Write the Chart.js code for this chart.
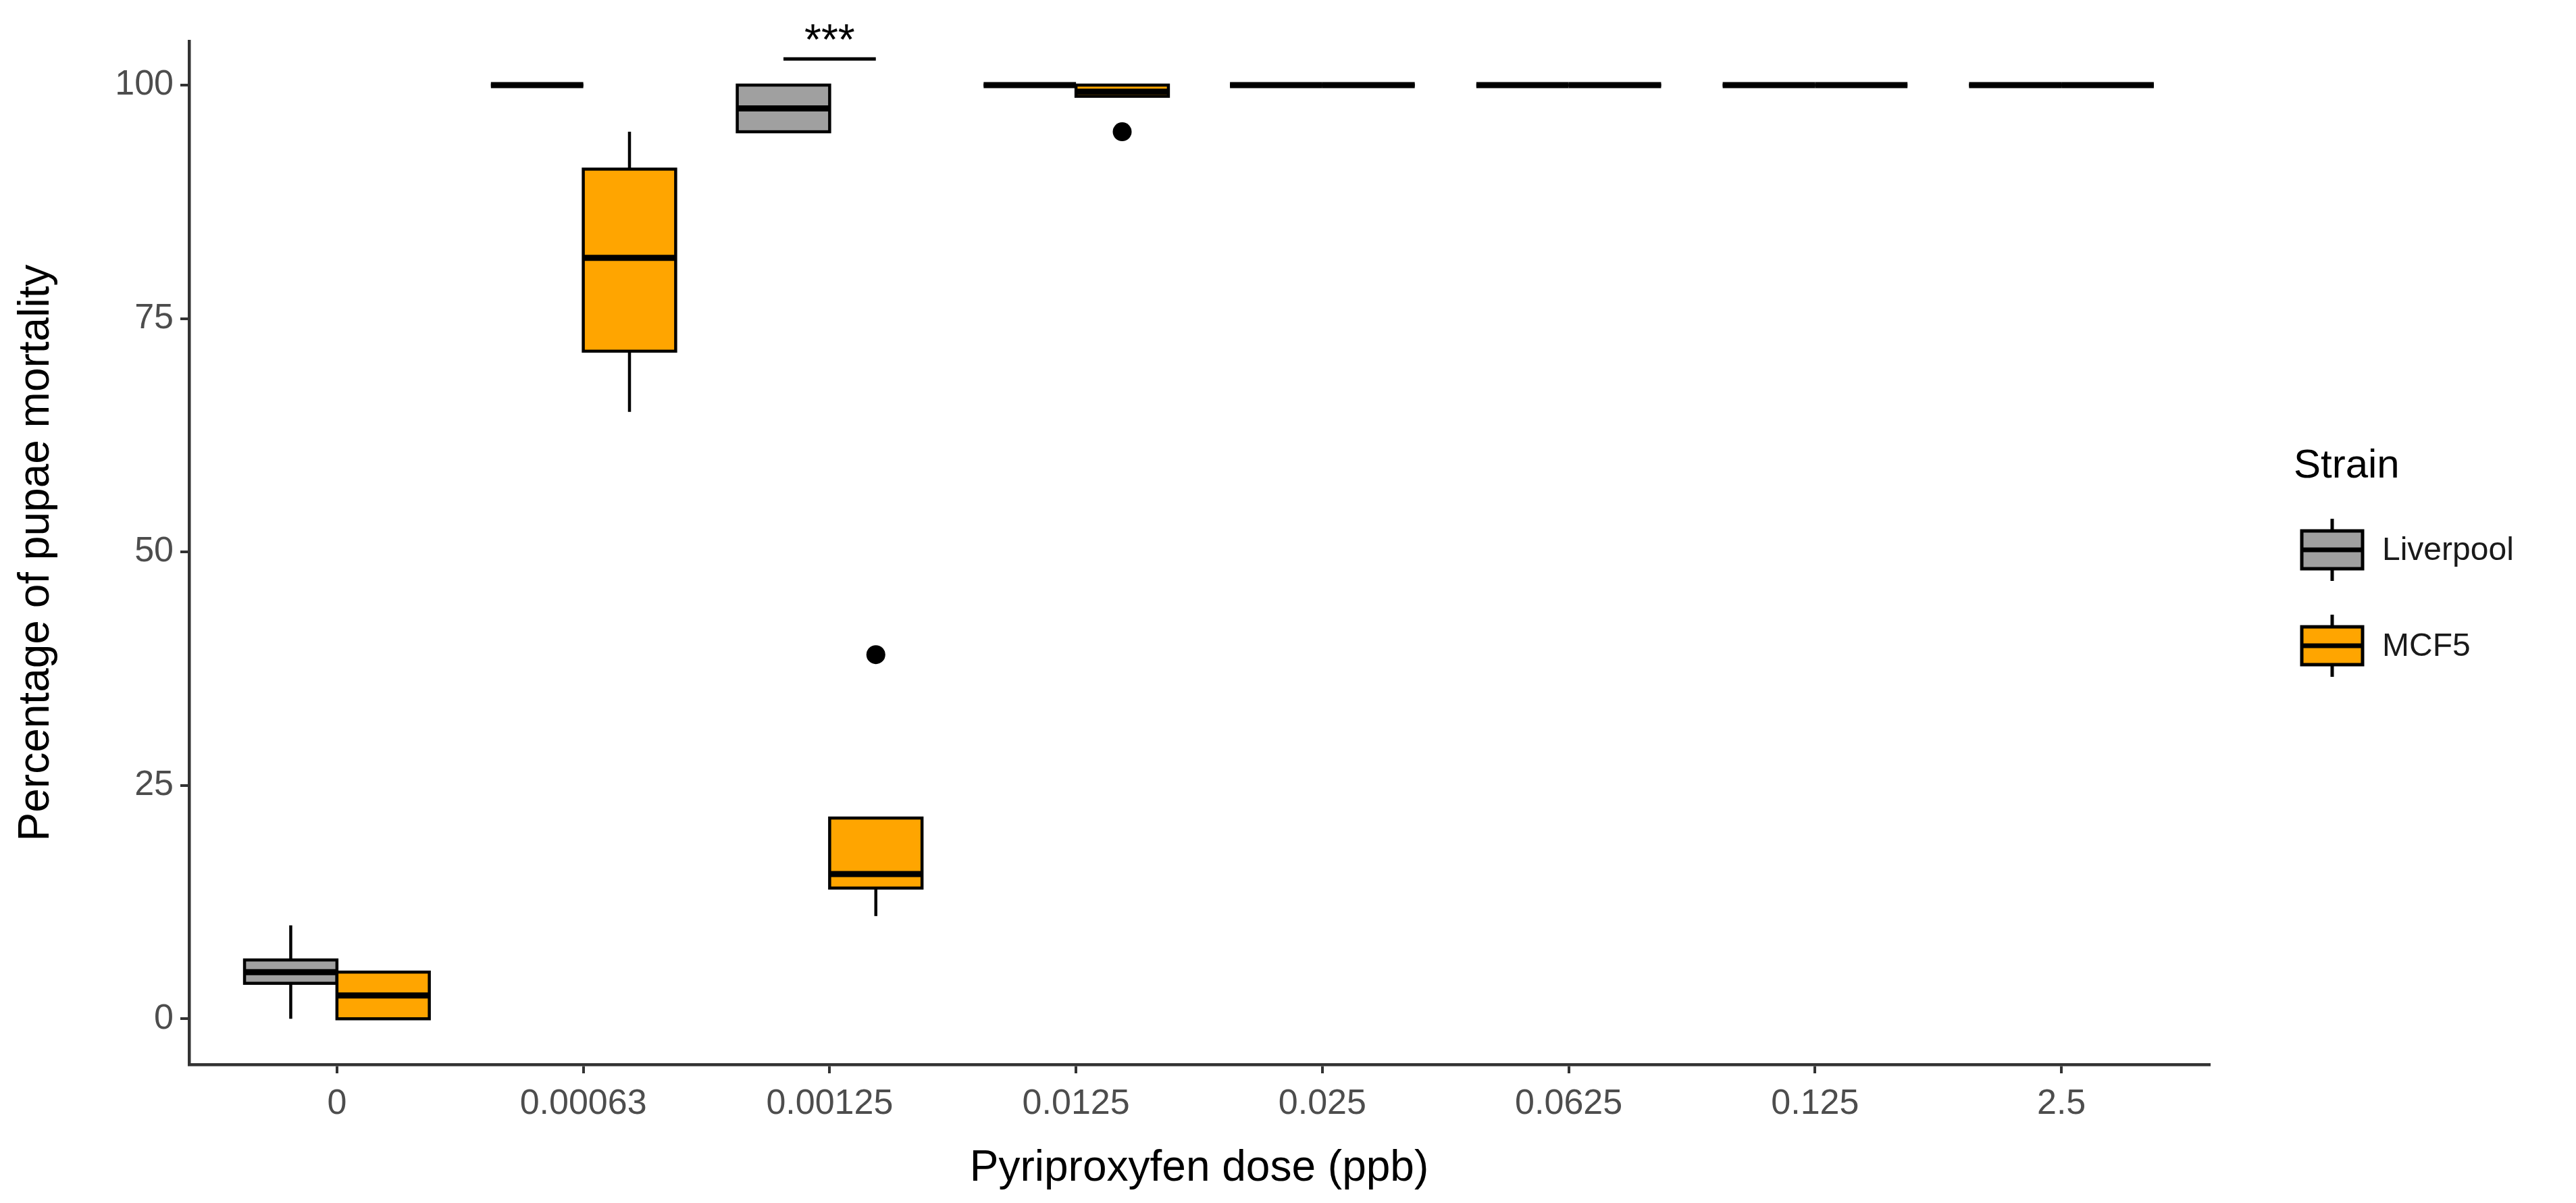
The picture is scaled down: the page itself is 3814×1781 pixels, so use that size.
<!DOCTYPE html>
<html><head><meta charset="utf-8">
<script src="https://cdn.jsdelivr.net/npm/chart.js@4"></script>
<style>html,body{margin:0;padding:0;background:#fff}#w{width:3814px;height:1781px}</style>
</head><body><div id="w"><canvas id="c"></canvas></div>
<script>
const categories = ["0","0.00063","0.00125","0.0125","0.025","0.0625","0.125","2.5"];
const yTicks = [0,25,50,75,100];
// [min, q1, median, q3, max]
const liverpool = [[0,3.8,5,6.3,10],[100,100,100,100,100],[95,95,97.5,100,100],[100,100,100,100,100],[100,100,100,100,100],[100,100,100,100,100],[100,100,100,100,100],[100,100,100,100,100]];
const mcf5 = [[0,0,2.5,5,5],[65,71.5,81.5,91,95],[11,14,15.5,21.5,21.5],[98.8,98.8,99.3,100,100],[100,100,100,100,100],[100,100,100,100,100],[100,100,100,100,100],[100,100,100,100,100]];
const mcf5Outliers = [{cat:2,y:39},{cat:3,y:95}];
const signif = {cat:2, y:102.8, label:"***"};
const strains = ["Liverpool","MCF5"];
const colors = ["#a0a0a0","#ffa500"];
const OFF = 0.1875, HALF = 0.1875;
const FONT = '"Liberation Sans", Arial';

const boxPlugin = {
  id:'boxes',
  afterDatasetsDraw(chart){
    const ctx=chart.ctx, xs=chart.scales.x, ys=chart.scales.y;
    [liverpool,mcf5].forEach((series,si)=>{
      series.forEach((b,i)=>{
        const cx=i+(si===0?-OFF:OFF);
        const xl=xs.getPixelForValue(cx-HALF), xr=xs.getPixelForValue(cx+HALF), xc=xs.getPixelForValue(cx);
        const [mn,q1,md,q3,mx]=b.map(v=>ys.getPixelForValue(v));
        ctx.save();
        ctx.strokeStyle='#000'; ctx.lineWidth=4.5;
        ctx.beginPath(); ctx.moveTo(xc,mx); ctx.lineTo(xc,q3); ctx.moveTo(xc,q1); ctx.lineTo(xc,mn); ctx.stroke();
        ctx.fillStyle=colors[si];
        ctx.fillRect(xl,q3,xr-xl,q1-q3);
        ctx.strokeRect(xl,q3,xr-xl,q1-q3);
        ctx.lineWidth=9;
        ctx.beginPath(); ctx.moveTo(xl,md); ctx.lineTo(xr,md); ctx.stroke();
        ctx.restore();
      });
    });
    const sx1=xs.getPixelForValue(signif.cat-OFF), sx2=xs.getPixelForValue(signif.cat+OFF), sy=ys.getPixelForValue(signif.y);
    ctx.save(); ctx.strokeStyle='#000'; ctx.lineWidth=5;
    ctx.beginPath(); ctx.moveTo(sx1,sy); ctx.lineTo(sx2,sy); ctx.stroke();
    ctx.fillStyle='#000'; ctx.font='64px '+FONT; ctx.textAlign='center'; ctx.textBaseline='alphabetic';
    ctx.fillText(signif.label,(sx1+sx2)/2,sy-6);
    ctx.textAlign='left'; ctx.textBaseline='middle';
    ctx.fillStyle='#000'; ctx.font='60px '+FONT;
    ctx.fillText('Strain',3396,690);
    ctx.font='48px '+FONT;
    strains.forEach((s,k)=>{
      const top=k===0?786:928, h=56, l=3408, w=90, c=l+w/2;
      ctx.strokeStyle='#000'; ctx.lineWidth=5;
      ctx.beginPath(); ctx.moveTo(c,top-18); ctx.lineTo(c,top); ctx.moveTo(c,top+h); ctx.lineTo(c,top+h+18); ctx.stroke();
      ctx.fillStyle=colors[k]; ctx.fillRect(l,top,w,h); ctx.strokeRect(l,top,w,h);
      ctx.lineWidth=7; ctx.beginPath(); ctx.moveTo(l,top+h/2); ctx.lineTo(l+w,top+h/2); ctx.stroke();
      ctx.fillStyle='#1a1a1a'; ctx.fillText(s,3527,top+h/2+2);
    });
    ctx.restore();
  }
};

new Chart(document.getElementById('c'),{
  type:'scatter',
  data:{datasets:[{label:'outliers',data:mcf5Outliers.map(o=>({x:o.cat+OFF,y:o.y})),pointRadius:14,pointBackgroundColor:'#000',pointBorderWidth:0}]},
  options:{
    responsive:true,maintainAspectRatio:false,animation:false,
    layout:{padding:{left:0,right:543,top:61,bottom:0}},
    plugins:{legend:{display:false},tooltip:{enabled:false}},
    scales:{
      x:{type:'linear',min:-0.6,max:7.6,
        afterBuildTicks(s){s.ticks=categories.map((_,i)=>({value:i}));},
        afterFit(s){s.height=205;},
        ticks:{callback:(v)=>categories[v]??'',color:'#4d4d4d',font:{size:52,family:FONT},padding:14,autoSkip:false,maxRotation:0},
        grid:{drawOnChartArea:false,drawTicks:true,tickLength:13,tickColor:'#333',lineWidth:4},
        border:{display:true,color:'#333',width:4.5},
        title:{display:true,text:'Pyriproxyfen dose (ppb)',color:'#000',font:{size:64,family:FONT},padding:{top:0,bottom:12}}
      },
      y:{type:'linear',min:-4.9,max:104.7,
        afterBuildTicks(s){s.ticks=yTicks.map(v=>({value:v}));},
        afterFit(s){s.width=280;},
        ticks:{color:'#4d4d4d',font:{size:52,family:FONT},padding:10},
        grid:{drawOnChartArea:false,drawTicks:true,tickLength:13,tickColor:'#333',lineWidth:4},
        border:{display:true,color:'#333',width:4.5},
        title:{display:true,text:'Percentage of pupae mortality',color:'#000',font:{size:64,family:FONT},padding:{top:16,bottom:6}}
      }
    }
  },
  plugins:[boxPlugin]
});
</script></body></html>
